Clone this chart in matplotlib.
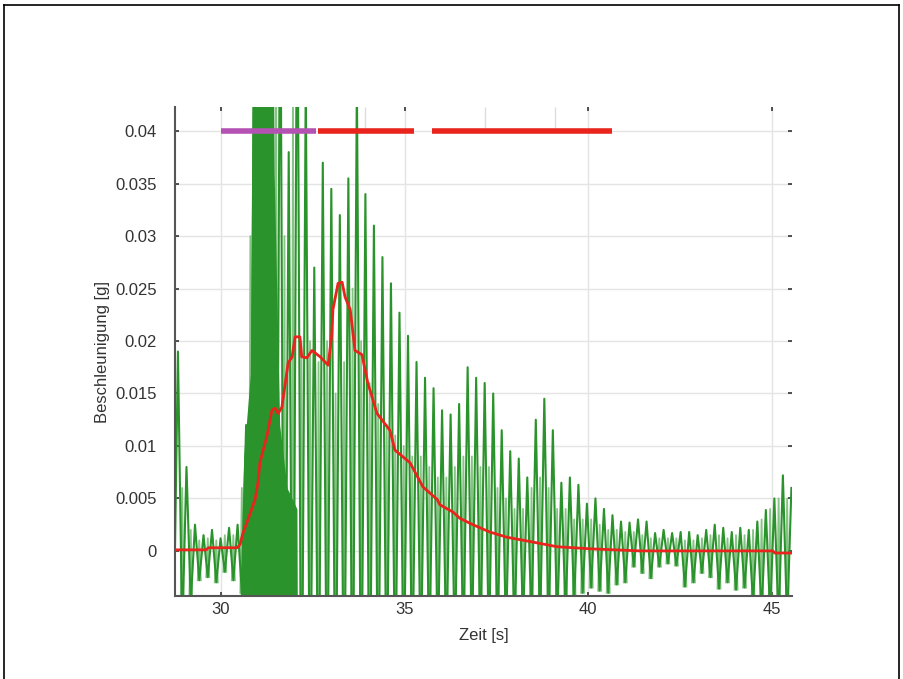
import numpy as np
import matplotlib
matplotlib.use("Agg")
import matplotlib.pyplot as plt
from matplotlib.lines import Line2D

plt.rcParams['font.family'] = ['Liberation Sans', 'DejaVu Sans']

# green acceleration trace: one tall spike per cycle, trough before each spike
T_FIRST = 28.83   # time of first spike [s]
PERIOD = 0.232    # spike spacing [s]
peak_hi = [0.019, 0.008, 0.0025, 0.0015, 0.002, 0.0012, 0.0022, 0.0025, 0.012, 0.06,
           0.06, 0.06, 0.06, 0.038, 0.06, 0.045, 0.027, 0.037, 0.0345, 0.032,
           0.0355, 0.045, 0.034, 0.031, 0.028, 0.0255, 0.0227, 0.0205, 0.018, 0.0165,
           0.0155, 0.0134, 0.013, 0.014, 0.0175, 0.0165, 0.016, 0.015, 0.0115, 0.0095,
           0.0088, 0.007, 0.0125, 0.0145, 0.0115, 0.0065, 0.007, 0.0063, 0.0045, 0.005,
           0.004, 0.0034, 0.0028, 0.0027, 0.003, 0.0028, 0.0017, 0.002, 0.0017, 0.0018,
           0.0018, 0.0015, 0.002, 0.0025, 0.0022, 0.0018, 0.0022, 0.002, 0.0028, 0.0039,
           0.005, 0.0072, 0.006]
trough_lo = [-0.008, -0.008, -0.005, -0.0028, -0.0025, -0.003, -0.002, -0.0028, -0.004, -0.012,
             -0.03, -0.03, -0.03, -0.03, -0.025, -0.025, -0.02, -0.02, -0.02, -0.02,
             -0.02, -0.02, -0.02, -0.02, -0.018, -0.016, -0.015, -0.014, -0.013, -0.012,
             -0.011, -0.01, -0.01, -0.01, -0.01, -0.01, -0.01, -0.01, -0.009, -0.008,
             -0.008, -0.007, -0.007, -0.008, -0.008, -0.007, -0.006, -0.005, -0.004, -0.0035,
             -0.0038, -0.004, -0.0032, -0.003, -0.0015, -0.0021, -0.0026, -0.0015, -0.0012, -0.0014,
             -0.0034, -0.003, -0.0021, -0.0025, -0.0036, -0.003, -0.0037, -0.0035, -0.005, -0.006,
             -0.006, -0.007, -0.007]
# smaller, lighter spikes half way between the tall ones
mid_hi = [0.006, 0.002, 0.001, 0.0012, 0.001, 0.0015, 0.0015, 0.006, 0.03, 0.06,
          0.06, 0.06, 0.03, 0.045, 0.02, 0.02, 0.018, 0.02, 0.015, 0.018,
          0.025, 0.02, 0.016, 0.014, 0.012, 0.011, 0.01, 0.009, 0.009, 0.008,
          0.007, 0.007, 0.008, 0.009, 0.009, 0.008, 0.008, 0.006, 0.005, 0.004,
          0.004, 0.006, 0.007, 0.006, 0.004, 0.004, 0.003, 0.003, 0.003, 0.0025,
          0.002, 0.002, 0.0018, 0.0018, 0.0015, 0.0012, 0.0012, 0.0012, 0.0012, 0.001,
          0.001, 0.0012, 0.0015, 0.0015, 0.0012, 0.0015, 0.0015, 0.002, 0.003, 0.004,
          0.005, 0.005]
# saturated stretch right after the onset (drawn solid)
sat_t = [30.52, 30.62, 30.80, 30.86, 31.42, 31.45, 31.60, 31.80, 32.07, 32.08]
sat_top = [-0.005, 0.009, 0.0168, 0.05, 0.05, 0.036, 0.012, 0.006, 0.004, -0.005]

# red envelope
env_t = [28.75, 29.60, 29.66, 30.44, 30.52, 30.60, 30.74, 30.93, 31.01, 31.06,
         31.25, 31.39, 31.47, 31.56, 31.66, 31.83, 31.94, 32.02, 32.15, 32.20,
         32.34, 32.48, 32.70, 32.92, 33.02, 33.05, 33.19, 33.30, 33.38, 33.52,
         33.65, 33.84, 34.00, 34.25, 34.60, 34.74, 35.15, 35.50, 35.89, 35.96,
         36.32, 36.51, 36.86, 37.32, 37.79, 38.41, 39.15, 40.05, 41.41, 45.03,
         45.08, 45.55]
env_v = [0.0001, 0.0001, 0.0003, 0.0003, 0.0006, 0.0017, 0.003, 0.0049, 0.0065, 0.0084,
         0.0109, 0.0134, 0.0136, 0.0131, 0.0137, 0.0179, 0.0185, 0.0204, 0.0204, 0.0185,
         0.0184, 0.0191, 0.0185, 0.0177, 0.0207, 0.023, 0.0255, 0.0256, 0.0242, 0.023,
         0.0191, 0.0187, 0.016, 0.0131, 0.0115, 0.0096, 0.0084, 0.0061, 0.0049, 0.0044,
         0.0037, 0.0031, 0.0025, 0.0018, 0.0013, 0.0009, 0.0004, 0.0002, 0.0, 0.0,
         -0.0002, -0.0002]

# event bars at the top
bar_start = [30.0, 32.65, 35.75]
bar_end = [32.6, 35.25, 40.65]
bar_color = ['#b452b4', '#e8241c', '#e8241c']
BAR_LEVEL = 0.04
marks = [33.92, 37.19, 39.1]

xticks = [30, 35, 40, 45]
yticks = [0, 0.005, 0.01, 0.015, 0.02, 0.025, 0.03, 0.035, 0.04]
ytick_labels = ['0', '0.005', '0.01', '0.015', '0.02', '0.025', '0.03', '0.035', '0.04']

YMIN, YMAX = -0.0043, 0.0423

fig = plt.figure(figsize=(9.04, 6.79), dpi=100)
ax = fig.add_axes([0.1936, 0.1222, 0.6825, 0.7202])

peak_t = T_FIRST + PERIOD * np.arange(len(peak_hi))
sig_t = np.empty(2 * len(peak_hi))
sig_v = np.empty(2 * len(peak_hi))
sig_t[0::2] = peak_t - PERIOD / 2
sig_t[1::2] = peak_t
sig_v[0::2] = trough_lo
sig_v[1::2] = peak_hi

# light spikes: trough - mid spike - trough, separate strokes (nan breaks)
n_mid = len(mid_hi)
mid_t = np.full(4 * n_mid, np.nan)
mid_v = np.full(4 * n_mid, np.nan)
mid_t[0::4] = peak_t[:n_mid] + PERIOD * 0.32
mid_t[1::4] = peak_t[:n_mid] + PERIOD * 0.5
mid_t[2::4] = peak_t[:n_mid] + PERIOD * 0.68
mid_v[0::4] = trough_lo[1:n_mid + 1]
mid_v[1::4] = mid_hi
mid_v[2::4] = trough_lo[1:n_mid + 1]

ax.plot(mid_t, mid_v, color='#86c386', lw=1.3, zorder=2)
ax.fill_between(sat_t, -0.01, sat_top, color='#2b932b', lw=0, zorder=2)
ax.plot(sig_t, sig_v, color='#2b932b', lw=1.5, zorder=2)
ax.plot(env_t, env_v, color='#e8241c', lw=2, zorder=3)

for s, e, c in zip(bar_start, bar_end, bar_color):
    ax.hlines(BAR_LEVEL, s, e, color=c, lw=4, zorder=4)
ax.vlines(marks, BAR_LEVEL, YMAX, color='#dddddd', lw=1, zorder=1)

ax.set_xlim(28.75, 45.55)
ax.set_ylim(YMIN, YMAX)
ax.set_xticks(xticks)
ax.set_yticks(yticks)
ax.set_yticklabels(ytick_labels)
ax.grid(True, color='#e4e4e4', lw=1)
ax.set_axisbelow(True)

for side in ['top', 'right']:
    ax.spines[side].set_visible(False)
for side in ['left', 'bottom']:
    ax.spines[side].set_color('#555555')
    ax.spines[side].set_linewidth(1.5)
ax.tick_params(top=True, right=True, direction='in', length=3, width=1.2,
               color='#333333', labelsize=12, labelcolor='#333333')
ax.tick_params(axis='y', pad=13)
ax.tick_params(axis='x', pad=4)

ax.set_xlabel('Zeit [s]', fontsize=12, color='#333333', labelpad=8)
ax.set_ylabel('Beschleunigung [g]', fontsize=12, color='#333333', labelpad=4)

# frame around the picture
for xs, ys in [([0.004, 0.004], [0.0, 0.993]), ([0.004, 0.994], [0.993, 0.993]),
               ([0.994, 0.994], [0.0, 0.993])]:
    fig.add_artist(Line2D(xs, ys, color='black', lw=1.2, transform=fig.transFigure))

fig.savefig('out.png', dpi=100)
